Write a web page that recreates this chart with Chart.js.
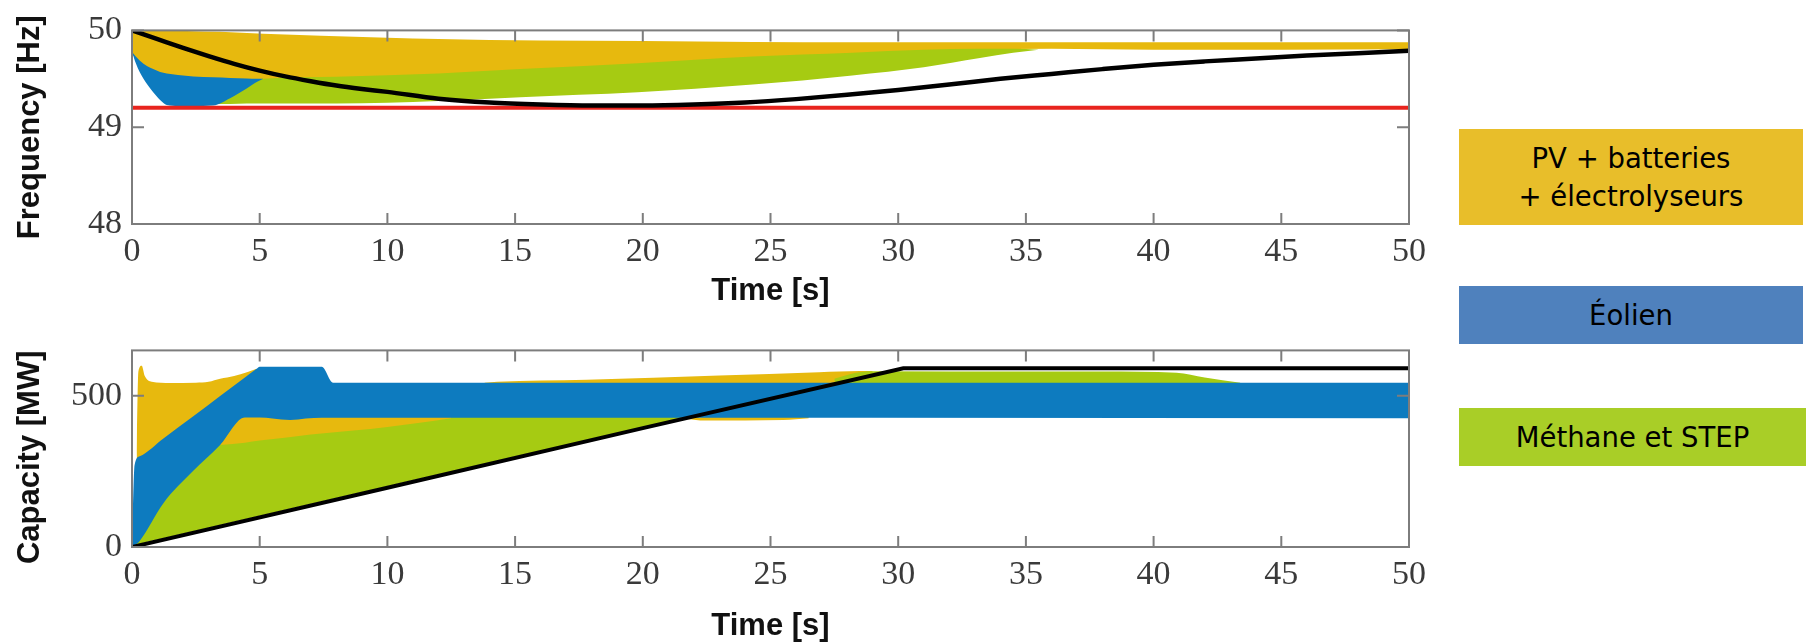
<!DOCTYPE html>
<html>
<head>
<meta charset="utf-8">
<script src="https://cdn.jsdelivr.net/npm/chart.js@4.4.1/dist/chart.umd.min.js"></script>
<style>
  html, body { margin: 0; padding: 0; background: #fff; }
  body { width: 1806px; height: 642px; position: relative; overflow: hidden; }
  canvas { position: absolute; left: 0; }
  #c1 { top: 0; }
  #c2 { top: 320px; }
  .key { position: absolute; left: 1459px; display: flex; align-items: center; justify-content: center;
         font-family: "DejaVu Sans", sans-serif; font-size: 27.5px; color: #000; text-align: center; }
  #k1 { top: 129px; width: 344px; height: 96px; background: #E8BE2A; line-height: 38px; }
  #k2 { top: 286px; width: 344px; height: 58px; background: #4F81BD; }
  #k3 { top: 408px; width: 347px; height: 58px; background: #A9CE27; }
</style>
</head>
<body>
<canvas id="c1" width="1450" height="320"></canvas>
<canvas id="c2" width="1450" height="322"></canvas>
<div class="key" id="k1"><div>PV + batteries<br>+ électrolyseurs</div></div>
<div class="key" id="k2">Éolien</div>
<div class="key" id="k3">Méthane et STEP</div>
<script>
// ---------- shared ----------
const timeTicks = [0, 5, 10, 15, 20, 25, 30, 35, 40, 45, 50];
const legendLabels = ['PV + batteries + électrolyseurs', 'Éolien', 'Méthane et STEP'];

// ---------- top chart: frequency ----------
const freqTicks = [48, 49, 50];
const freqLimit = 49.2;
const freqT  = [0, 1, 2, 3, 4, 5, 6, 7, 8, 9, 10, 12, 14, 16, 18, 20, 22, 24, 26, 28, 30, 32, 34, 36, 38, 40, 42, 44, 46, 48, 50];
const freqHz = [50.0, 49.91, 49.82, 49.735, 49.655, 49.585, 49.525, 49.475, 49.43, 49.395, 49.365, 49.295, 49.255, 49.235, 49.225, 49.225, 49.235, 49.255, 49.29, 49.335, 49.385, 49.44, 49.50, 49.55, 49.60, 49.645, 49.68, 49.71, 49.74, 49.765, 49.79];

// PV + batteries band (frequency) - lower edge partly hidden under wind / methane bands
const fPvT  = [0, 0.83, 2.14, 3.45, 5.14, 7.4, 10, 12, 16, 20, 24.3, 28.2, 31, 33.2, 36, 40, 45, 50];
const fPvHi = [50.0, 50.0, 49.995, 49.985, 49.965, 49.944, 49.925, 49.91, 49.895, 49.89, 49.88, 49.877, 49.877, 49.877, 49.877, 49.877, 49.877, 49.877];
const fPvLo = [49.75, 49.56, 49.50, 49.48, 49.47, 49.49, 49.51, 49.53, 49.57, 49.63, 49.69, 49.74, 49.78, 49.80, 49.81, 49.80, 49.80, 49.805];
// Méthane et STEP band (frequency)
const fMeT  = [3.3, 3.84, 4.49, 5.14, 8, 12, 15.2, 19.8, 24.3, 28.2, 31, 33.2, 34.5, 35.5];
const fMeHi = [49.40, 49.45, 49.48, 49.50, 49.52, 49.555, 49.60, 49.66, 49.73, 49.77, 49.80, 49.81, 49.81, 49.80];
const fMeLo = [49.24, 49.24, 49.245, 49.245, 49.245, 49.27, 49.31, 49.36, 49.44, 49.535, 49.62, 49.715, 49.77, 49.80];
// Éolien band (frequency)
const fWiT  = [0, 0.15, 0.3, 0.6, 0.83, 1.1, 1.36, 1.8, 2.4, 3.18, 3.84, 4.49, 4.9, 5.14];
const fWiHi = [49.78, 49.73, 49.69, 49.63, 49.60, 49.57, 49.555, 49.54, 49.525, 49.515, 49.508, 49.503, 49.50, 49.50];
const fWiLo = [49.78, 49.66, 49.57, 49.44, 49.36, 49.28, 49.23, 49.22, 49.22, 49.225, 49.30, 49.40, 49.47, 49.50];

// ---------- bottom chart: capacity ----------
const capTicks = [0, 500];
const capT  = [0, 10, 20, 30.2, 50];
const capMW = [0, 196, 393, 591, 591];

// Éolien band (capacity)
const cWiT  = [0, 0.1, 0.3, 1.23, 2.4, 3.45, 4.42, 4.88, 5.0, 5.5, 6.2, 6.8, 7.43, 7.88, 50];
const cWiHi = [0, 270, 300, 359, 432, 499, 560, 589, 596, 596, 596, 596, 596, 543, 543];
const cWiLo = [0, 5, 20, 145, 252, 337, 428, 428, 428, 425, 420, 425, 427, 427, 426];
// PV band, left part (above wind; lower edge hidden under wind)
const cPvAT  = [0.18, 0.25, 0.38, 0.5, 0.77, 1.5, 2.5, 3.0, 3.45, 4.0, 4.5, 4.88];
const cPvAHi = [300, 580, 599, 565, 546, 542, 543, 546, 556, 565, 578, 589];
const cPvALo = [284, 288, 295, 303, 320, 366, 429, 460, 489, 523, 555, 579];
// PV band, below wind
const cPvBT  = [3.45, 4.42, 5.0, 6.06, 7.0, 8.67, 10.0, 11.2, 12.5];
const cPvBHi = [337, 432, 432, 432, 432, 432, 432, 432, 432];
const cPvBLo = [337, 345, 352, 362, 372, 385, 397, 410, 426];
// PV band, small sliver below wind
const cPvDT  = [21.5, 22.5, 25.5, 26.5];
const cPvDHi = [432, 432, 432, 432];
const cPvDLo = [426, 418, 420, 426];
// PV band, above wind (right)
const cPvCT  = [13.8, 14.3, 17.8, 23.0, 26.9, 28.5, 29.0];
const cPvCHi = [543, 546, 553, 567, 578, 582, 582];
const cPvCLo = [538, 538, 538, 538, 538, 538, 538];
// Méthane et STEP band, main part (upper edge hidden under wind / PV)
const cMeAT  = [0.12, 0.6, 1.23, 2.4, 3.45, 4.42, 5.0, 6.06, 7.0, 8.67, 10.0, 11.2, 12.5, 15, 18, 20, 21.5];
const cMeAHi = [10, 82, 152, 259, 344, 432, 432, 432, 432, 432, 432, 432, 432, 432, 432, 432, 432];
const cMeALo = [6, 17, 29, 52, 73, 92, 103, 124, 142, 175, 201, 225, 250, 299, 358, 397, 426];
// Méthane et STEP band, above wind (right)
const cMeCT  = [27.5, 28.3, 29.0, 35, 38, 40.9, 42.0, 43.4];
const cMeCHi = [556, 575, 581, 580, 580, 576, 560, 543];
const cMeCLo = [538, 538, 538, 538, 538, 538, 538, 538];

// ---------- styles ----------
const COL_PV = '#E7B90E';
const COL_WI = '#0D7BBF';
const COL_ME = '#A6CB12';
const COL_RED = '#E8241E';

const pts = (t, v) => t.map((x, i) => ({ x, y: v[i] }));

function addBand(list, t, lo, hi, color, order) {
  const idx = list.length;
  list.push({
    label: '_lo', data: pts(t, lo), order,
    borderColor: 'rgba(0,0,0,0)', borderWidth: 0, pointRadius: 0, fill: false,
    cubicInterpolationMode: 'monotone'
  });
  list.push({
    label: '_hi', data: pts(t, hi), order,
    borderColor: 'rgba(0,0,0,0)', borderWidth: 0, pointRadius: 0,
    backgroundColor: color, fill: { target: idx },
    cubicInterpolationMode: 'monotone'
  });
}
function addLine(list, t, v, color, width, order, smooth) {
  list.push({
    label: '_line', data: pts(t, v), order,
    borderColor: color, borderWidth: width, pointRadius: 0, fill: false,
    cubicInterpolationMode: smooth ? 'monotone' : 'default', tension: 0
  });
}

const framePlugin = {
  id: 'frame',
  afterDatasetsDraw(chart) {
    const { ctx, chartArea: a, scales: { x, y } } = chart;
    ctx.save();
    ctx.strokeStyle = '#7d7d7d';
    ctx.lineWidth = 2;
    ctx.strokeRect(a.left, a.top, a.width, a.height);
    ctx.beginPath();
    x.ticks.forEach(tk => {
      const px = x.getPixelForValue(tk.value);
      ctx.moveTo(px, a.bottom); ctx.lineTo(px, a.bottom - 11);
      ctx.moveTo(px, a.top); ctx.lineTo(px, a.top + 11);
    });
    y.ticks.forEach(tk => {
      const py = y.getPixelForValue(tk.value);
      ctx.moveTo(a.left, py); ctx.lineTo(a.left + 12, py);
      ctx.moveTo(a.right, py); ctx.lineTo(a.right - 12, py);
    });
    ctx.stroke();
    ctx.restore();
  }
};

const tickFont = { family: '"Liberation Serif", "Times New Roman", serif', size: 34 };
const titleFont = { family: '"Liberation Sans", Arial, sans-serif', size: 31, weight: 'bold', lineHeight: 1 };

function makeOptions(cfg) {
  return {
    responsive: false, animation: false, devicePixelRatio: 1,
    layout: { padding: { top: cfg.padTop, right: 41, bottom: 0, left: 0 } },
    plugins: { legend: { display: false }, tooltip: { enabled: false } },
    scales: {
      x: {
        type: 'linear', min: 0, max: 50,
        afterBuildTicks: s => { s.ticks = timeTicks.map(v => ({ value: v })); },
        afterFit: s => { s.height = cfg.xHeight; },
        grid: { display: false, drawTicks: false }, border: { display: false },
        ticks: { font: tickFont, color: '#3a3a3a', padding: 8, maxRotation: 0, autoSkip: false },
        title: { display: true, text: 'Time [s]', font: titleFont, color: '#111', padding: { top: 0, bottom: cfg.xTitlePad } }
      },
      y: {
        type: 'linear', min: cfg.yMin, max: cfg.yMax,
        afterBuildTicks: s => { s.ticks = cfg.yTicks.map(v => ({ value: v })); },
        afterFit: s => { s.width = 132; },
        grid: { display: false, drawTicks: false }, border: { display: false },
        ticks: { font: tickFont, color: '#3a3a3a', padding: 10, autoSkip: false },
        title: { display: true, text: cfg.yTitle, font: titleFont, color: '#111', padding: { top: 15, bottom: 0 } }
      }
    }
  };
}

// ---------- build top chart ----------
const ds1 = [];
addBand(ds1, fPvT, fPvLo, fPvHi, COL_PV, 5);
addBand(ds1, fMeT, fMeLo, fMeHi, COL_ME, 4);
addBand(ds1, fWiT, fWiLo, fWiHi, COL_WI, 3);
addLine(ds1, [0, 50], [freqLimit, freqLimit], COL_RED, 4, 1, false);
addLine(ds1, freqT, freqHz, '#000', 4.5, 0, true);

new Chart(document.getElementById('c1'), {
  type: 'line',
  data: { datasets: ds1 },
  options: makeOptions({ padTop: 21, xHeight: 96, xTitlePad: 13.5, yMin: 48, yMax: 50, yTicks: freqTicks, yTitle: 'Frequency [Hz]' }),
  plugins: [framePlugin]
});

// ---------- build bottom chart ----------
const ds2 = [];
addBand(ds2, cMeAT, cMeALo, cMeAHi, COL_ME, 6);
addBand(ds2, cPvAT, cPvALo, cPvAHi, COL_PV, 5);
addBand(ds2, cPvBT, cPvBLo, cPvBHi, COL_PV, 5);
addBand(ds2, cPvCT, cPvCLo, cPvCHi, COL_PV, 5);
addBand(ds2, cPvDT, cPvDLo, cPvDHi, COL_PV, 5);
addBand(ds2, cMeCT, cMeCLo, cMeCHi, COL_ME, 4);
addBand(ds2, cWiT, cWiLo, cWiHi, COL_WI, 3);
addLine(ds2, capT, capMW, '#000', 4, 0, false);

new Chart(document.getElementById('c2'), {
  type: 'line',
  data: { datasets: ds2 },
  options: makeOptions({ padTop: 24, xHeight: 95, xTitlePad: 0, yMin: 0, yMax: 650, yTicks: capTicks, yTitle: 'Capacity [MW]\u00a0\u00a0' }),
  plugins: [framePlugin]
});
</script>
</body>
</html>
